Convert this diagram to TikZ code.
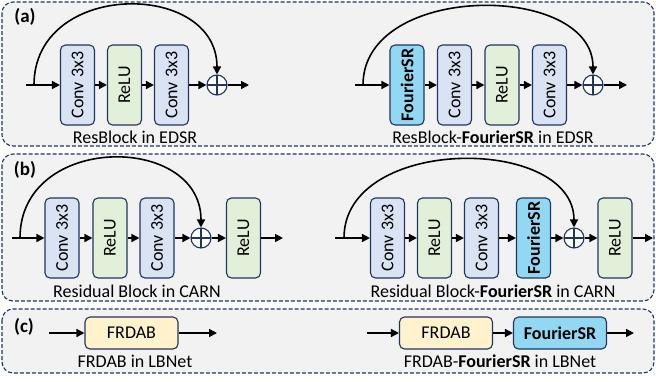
\documentclass[tikz,border=0pt]{standalone}
\usepackage{fontspec}
\setmainfont{Carlito}
\usetikzlibrary{arrows.meta,positioning}

\definecolor{navy}{RGB}{32,54,96}
\definecolor{panelgray}{RGB}{242,242,242}
\definecolor{convblue}{RGB}{218,227,243}
\definecolor{relugreen}{RGB}{226,240,217}
\definecolor{fsrblue}{RGB}{146,216,242}
\definecolor{frdabyellow}{RGB}{255,242,204}

\begin{document}
\begin{tikzpicture}[x=1pt, y=-1pt,
    panel/.style={draw=navy, fill=panelgray, line width=1.1pt, dash pattern=on 4pt off 2pt, rounded corners=11pt},
    blk/.style={draw=navy, line width=1.1pt, rounded corners=5pt, font=\fontsize{18}{21}\selectfont, inner sep=0pt},
    vblk/.style={blk, rotate=90, minimum width=80pt, minimum height=34pt},
    conv/.style={vblk, fill=convblue},
    relu/.style={vblk, fill=relugreen},
    fsr/.style={vblk, fill=fsrblue, font=\fontsize{18}{21}\selectfont\bfseries},
    hblk/.style={blk, minimum width=93pt, minimum height=32pt},
    sum/.style={circle, draw=navy, line width=1.1pt, fill=white, minimum size=20pt, inner sep=0pt,
        path picture={\draw[navy, line width=1.1pt] (path picture bounding box.north) -- (path picture bounding box.south)
            (path picture bounding box.west) -- (path picture bounding box.east);}},
    caption/.style={font=\fontsize{18}{21}\selectfont},
    tag/.style={font=\fontsize{19}{21}\selectfont\bfseries},
    arr/.style={-{Triangle[length=8pt, width=8pt]}, line width=1.6pt, black},
]
\useasboundingbox (0,0) rectangle (656,381);

% Panels
\draw[panel] (2,2) rectangle (654,146);
\draw[panel] (2,154) rectangle (654,301);
\draw[panel] (2,309) rectangle (654,373);

\node[tag] (ta) at (25,17) {(a)};
\node[tag] (tb) at (25,170) {(b)};
\node[tag] (tc) at (24,327) {(c)};

% (a) ResBlock in EDSR
\coordinate (ina) at (26,85);
\coordinate (ska) at (34,85);
\node[conv] (a1) at (77.5,85) {Conv 3x3};
\node[relu] (a2) at (124.5,85) {ReLU};
\node[conv] (a3) at (171.5,85) {Conv 3x3};
\node[sum] (as) at (217,85) {};
\coordinate (outa) at (249,85);
\draw[arr] (ina) -- (a1);
\draw[arr] (a1) -- (a2);
\draw[arr] (a2) -- (a3);
\draw[arr] (a3) -- (as);
\draw[arr] (as) -- (outa);
\draw[arr] (ska) .. controls (34,-20) and (217,-20) .. (as.north);
\node[caption] (capa) at (135,137) {ResBlock in EDSR};

% (a) ResBlock-FourierSR in EDSR
\coordinate (inA) at (355,85);
\coordinate (skA) at (363,85);
\node[fsr] (A1) at (407,85) {FourierSR};
\node[conv] (A2) at (454.5,85) {Conv 3x3};
\node[relu] (A3) at (502,85) {ReLU};
\node[conv] (A4) at (549.5,85) {Conv 3x3};
\node[sum] (As) at (593,85) {};
\coordinate (outA) at (627,85);
\draw[arr] (inA) -- (A1);
\draw[arr] (A1) -- (A2);
\draw[arr] (A2) -- (A3);
\draw[arr] (A3) -- (A4);
\draw[arr] (A4) -- (As);
\draw[arr] (As) -- (outA);
\draw[arr] (skA) .. controls (363,-18) and (593,-18) .. (As.north);
\node[caption] (capA) at (493,137) {ResBlock-\textbf{FourierSR} in EDSR};

% (b) Residual Block in CARN
\coordinate (inb) at (12,238);
\coordinate (skb) at (20,238);
\node[conv] (b1) at (62,238) {Conv 3x3};
\node[relu] (b2) at (110,238) {ReLU};
\node[conv] (b3) at (157,238) {Conv 3x3};
\node[sum] (bs) at (201,238) {};
\node[relu] (b4) at (243.5,238) {ReLU};
\coordinate (outb) at (283,238);
\draw[arr] (inb) -- (b1);
\draw[arr] (b1) -- (b2);
\draw[arr] (b2) -- (b3);
\draw[arr] (b3) -- (bs);
\draw[arr] (bs) -- (b4);
\draw[arr] (b4) -- (outb);
\draw[arr] (skb) .. controls (20,133) and (201,133) .. (bs.north);
\node[caption] (capb) at (137,291) {Residual Block in CARN};

% (b) Residual Block-FourierSR in CARN
\coordinate (inB) at (335,238);
\coordinate (skB) at (344,238);
\node[conv] (B1) at (387.5,238) {Conv 3x3};
\node[relu] (B2) at (434.5,238) {ReLU};
\node[conv] (B3) at (481.5,238) {Conv 3x3};
\node[fsr] (B4) at (533.5,238) {FourierSR};
\node[sum] (Bs) at (574,238) {};
\node[relu] (B5) at (615,238) {ReLU};
\coordinate (outB) at (653,238);
\draw[arr] (inB) -- (B1);
\draw[arr] (B1) -- (B2);
\draw[arr] (B2) -- (B3);
\draw[arr] (B3) -- (B4);
\draw[arr] (B4) -- (Bs);
\draw[arr] (Bs) -- (B5);
\draw[arr] (B5) -- (outB);
\draw[arr] (skB) .. controls (344,135) and (574,135) .. (Bs.north);
\node[caption] (capB) at (493,291) {Residual Block-\textbf{FourierSR} in CARN};

% (c) FRDAB in LBNet
\coordinate (inc) at (49,333);
\node[hblk, fill=frdabyellow] (c1) at (131.5,333) {FRDAB};
\coordinate (outc) at (217,333);
\draw[arr] (inc) -- (c1);
\draw[arr] (c1) -- (outc);
\node[caption] (capc) at (135,361) {FRDAB in LBNet};

% (c) FRDAB-FourierSR in LBNet
\coordinate (inC) at (367,333);
\node[hblk, fill=frdabyellow] (C1) at (446,333) {FRDAB};
\node[hblk, fill=fsrblue, font=\fontsize{18}{21}\selectfont\bfseries] (C2) at (560,333) {FourierSR};
\coordinate (outC) at (634,333);
\draw[arr] (inC) -- (C1);
\draw[arr] (C1) -- (C2);
\draw[arr] (C2) -- (outC);
\node[caption] (capC) at (500,361) {FRDAB-\textbf{FourierSR} in LBNet};

\end{tikzpicture}
\end{document}
